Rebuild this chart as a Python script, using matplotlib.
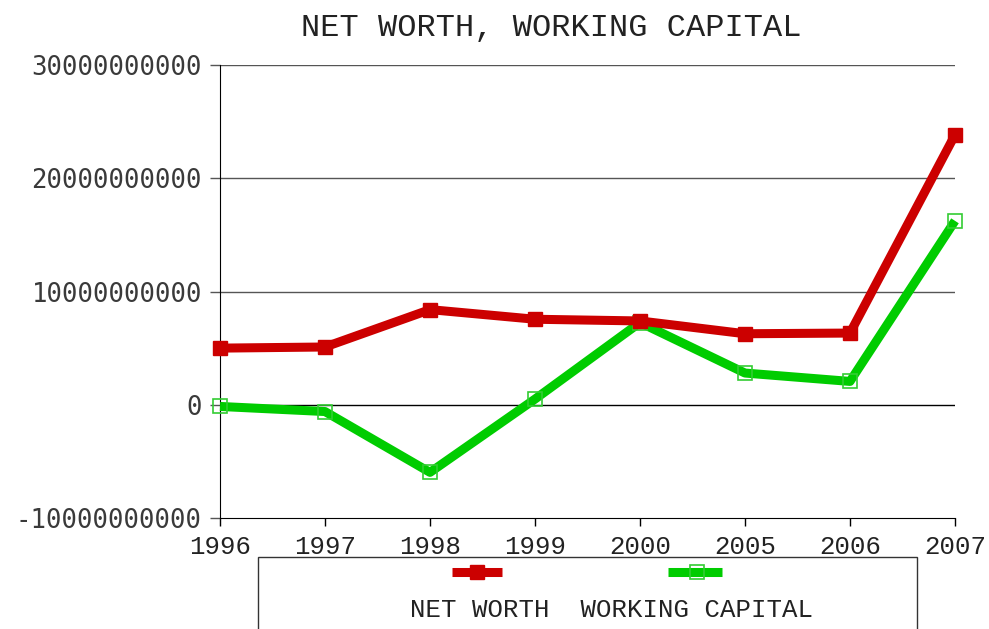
import matplotlib
matplotlib.use("Agg")
import matplotlib.pyplot as plt
from matplotlib.lines import Line2D
from matplotlib.patches import Rectangle
from matplotlib.ticker import FuncFormatter, FixedLocator

categories = ["1996", "1997", "1998", "1999", "2000", "2005", "2006", "2007"]
net_worth = [5.0e9, 5.1e9, 8.4e9, 7.55e9, 7.4e9, 6.27e9, 6.33e9, 23.83e9]
working_capital = [-0.15e9, -0.6e9, -5.97e9, 0.5e9, 7.26e9, 2.8e9, 2.06e9, 16.24e9]
series_names = ["NET WORTH", "WORKING CAPITAL"]
title = "NET WORTH, WORKING CAPITAL"
y_ticks = [-1e10, 0, 1e10, 2e10, 3e10]

RED = "#cc0000"
GREEN = "#00cc00"
GREEN_MK = "#33cc33"
W, H = 989, 629

fig = plt.figure(figsize=(W / 100, H / 100), dpi=100)
ax = fig.add_axes([220 / W, 1 - 518 / H, (955 - 220) / W, (518 - 65) / H])

x = list(range(len(categories)))
ax.plot(x, net_worth, color=RED, lw=6.5, marker="s", ms=10.5,
        mfc=RED, mec=RED, mew=1, zorder=4, clip_on=False, solid_capstyle="butt")
ax.plot(x, working_capital, color=GREEN, lw=6.5, marker="s", ms=10.5,
        mfc="none", mec=GREEN_MK, mew=1.2, zorder=3, clip_on=False, solid_capstyle="butt")

ax.set_xlim(0, len(categories) - 1)
ax.set_ylim(y_ticks[0], y_ticks[-1])

ax.xaxis.set_major_locator(FixedLocator(x))
ax.set_xticklabels(categories, family="Liberation Mono", fontsize=18.5, color="#222222")
ax.yaxis.set_major_locator(FixedLocator(y_ticks))
ax.yaxis.set_major_formatter(FuncFormatter(lambda v, p: "%d" % int(round(v))))
for lab in ax.get_yticklabels():
    lab.set_family("DejaVu Sans Mono")
    lab.set_fontsize(18.5)
    lab.set_color("#3a3a3a")

ax.tick_params(axis="x", direction="out", length=6, width=1, color="black", pad=6)
ax.tick_params(axis="y", direction="out", length=7, width=1, color="#555555", pad=6)

for s in ["top", "right"]:
    ax.spines[s].set_visible(False)
ax.spines["left"].set_color("black")
ax.spines["bottom"].set_color("black")

for v in y_ticks[1:]:
    ax.axhline(v, color="black" if v == 0 else "#555555", lw=1.0, zorder=1)

fig.text(551 / W, 1 - 28 / H, title, family="Liberation Mono", fontsize=23,
         ha="center", va="center", color="#222222")

# legend
fig.add_artist(Rectangle((258 / W, -0.2), (917 - 258) / W, 0.2 + (1 - 557 / H),
                         transform=fig.transFigure, fill=False, edgecolor="#333333",
                         lw=1, clip_on=False))
ly = 1 - 572 / H
fig.add_artist(Line2D([452 / W, 502 / W], [ly, ly], transform=fig.transFigure,
                      color=RED, lw=6.5, solid_capstyle="butt"))
fig.add_artist(Line2D([477 / W], [ly], transform=fig.transFigure, color=RED,
                      marker="s", ms=10.5, mfc=RED, mec=RED, lw=0))
fig.add_artist(Line2D([668 / W, 722 / W], [ly, ly], transform=fig.transFigure,
                      color=GREEN, lw=6.5, solid_capstyle="butt"))
fig.add_artist(Line2D([697 / W], [ly], transform=fig.transFigure, color=GREEN_MK,
                      marker="s", ms=10.5, mfc="none", mec=GREEN_MK, mew=1.2, lw=0))
fig.text(611 / W, 1 - 610 / H, "  ".join(series_names), family="Liberation Mono",
         fontsize=18.5, ha="center", va="center", color="#222222")

fig.savefig("out.png", dpi=100)
